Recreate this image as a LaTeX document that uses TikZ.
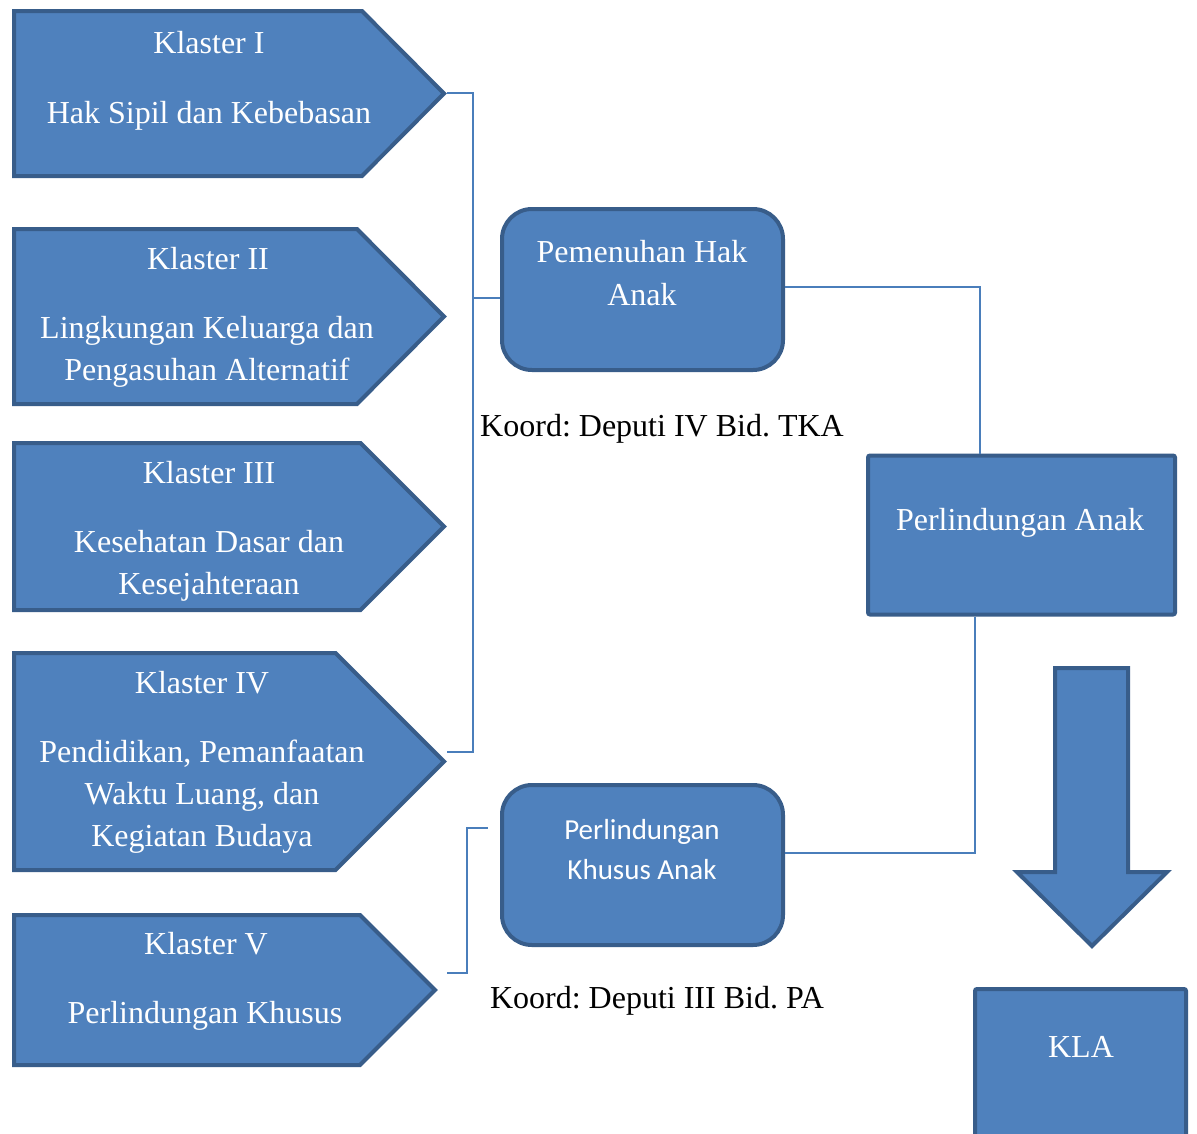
\documentclass[tikz,border=0pt]{standalone}
\usepackage{fontspec}
\setmainfont{Liberation Serif}
\newfontfamily\calfont{Carlito}
\frenchspacing
\definecolor{boxfill}{HTML}{4F81BD}
\definecolor{boxline}{HTML}{385D8A}
\definecolor{conn}{HTML}{4A7EBB}
\begin{document}
\begin{tikzpicture}[x=1pt,y=-1pt,
  shapebox/.style={fill=boxfill,draw=boxline,line width=4pt},
  roundbox/.style={shapebox,rounded corners=30pt,inner sep=0pt},
  sqbox/.style={shapebox,rounded corners=2pt,inner sep=0pt},
  wtxt/.style={text=white,anchor=base,inner sep=0pt,font=\frenchspacing\fontsize{32}{38}\selectfont},
  wsans/.style={text=white,anchor=base,inner sep=0pt,font=\calfont\fontsize{29}{35}\selectfont},
  btxt/.style={text=black,anchor=base,inner sep=0pt,font=\frenchspacing\fontsize{32}{38}\selectfont},
  connector/.style={draw=conn,line width=1.6pt}]
\useasboundingbox (0,0) rectangle (1197,1133);
\fill[white] (0,0) rectangle (1197,1133);

% pentagons (clusters)
\draw[shapebox] (14,11) -- (362,11) -- (444,93.5) coordinate (t1) -- (362,176) -- (14,176) -- cycle;
\draw[shapebox] (14,229) -- (357,229) -- (444,316.5) coordinate (t2) -- (357,404) -- (14,404) -- cycle;
\draw[shapebox] (14,443) -- (360.5,443) -- (444,526.5) coordinate (t3) -- (360.5,610) -- (14,610) -- cycle;
\draw[shapebox] (14,653) -- (335.5,653) -- (444,761.5) coordinate (t4) -- (335.5,870) -- (14,870) -- cycle;
\draw[shapebox] (14,915) -- (360,915) -- (435,990) coordinate (t5) -- (360,1065) -- (14,1065) -- cycle;

\node[wtxt] (k1a) at (209,53) {Klaster I};
\node[wtxt] (k1b) at (209,123) {Hak Sipil dan Kebebasan};
\node[wtxt] (k2a) at (208,269) {Klaster II};
\node[wtxt] (k2b) at (207,338) {Lingkungan Keluarga dan};
\node[wtxt] (k2c) at (207,380) {Pengasuhan Alternatif};
\node[wtxt] (k3a) at (209,483) {Klaster III};
\node[wtxt] (k3b) at (209,552) {Kesehatan Dasar dan};
\node[wtxt] (k3c) at (209,594) {Kesejahteraan};
\node[wtxt] (k4a) at (202,693) {Klaster IV};
\node[wtxt] (k4b) at (202,762) {Pendidikan, Pemanfaatan};
\node[wtxt] (k4c) at (202,804) {Waktu Luang, dan};
\node[wtxt] (k4d) at (202,846) {Kegiatan Budaya};
\node[wtxt] (k5a) at (206,954) {Klaster V};
\node[wtxt] (k5b) at (205,1023) {Perlindungan Khusus};

% rounded boxes
\node[roundbox,minimum width=281pt,minimum height=161pt] (pha) at (642.5,289.5) {};
\node[wtxt] (phat1) at (642,262) {Pemenuhan Hak};
\node[wtxt] (phat2) at (642,305) {Anak};
\node[btxt] (koord1) at (662,436) {Koord: Deputi IV Bid. TKA};

\node[roundbox,minimum width=281pt,minimum height=160pt] (pka) at (642.5,865) {};
\node[wsans] (pkat1) at (642,839) {Perlindungan};
\node[wsans] (pkat2) at (642,879) {Khusus Anak};
\node[btxt] (koord2) at (657,1008) {Koord: Deputi III Bid. PA};

% Perlindungan Anak
\node[sqbox,minimum width=307pt,minimum height=159pt] (pa) at (1021.5,535) {};
\node[wtxt] (pat) at (1020,530) {Perlindungan Anak};

% big arrow
\draw[shapebox,line join=miter] (1055,668) -- (1128,668) -- (1128,872) -- (1167,872)
  -- (1092,946) coordinate (arrtip) -- (1017,872) -- (1055,872) -- cycle;

% KLA
\draw[shapebox,rounded corners=2pt] (975,1150) -- (975,989) -- (1186,989) -- (1186,1150);
\node[wtxt] (kla) at (1081,1057) {KLA};

% connectors
\coordinate (b1top) at (473,93);
\coordinate (b1bot) at (473,752);
\coordinate (b1mid) at (473,298);
\draw[connector] (447,93) -- (b1top) -- (b1bot) -- (447,752);
\draw[connector] (b1mid) -- (b1mid -| pha.west);
\coordinate (c1) at (980,287);
\draw[connector] (c1 -| pha.east) -- (c1) -- (c1 |- pa.north);
\coordinate (c2) at (975,853);
\draw[connector] (c2 |- pa.south) -- (c2) -- (c2 -| pka.east);
\coordinate (b2a) at (467,973);
\coordinate (b2b) at (467,828);
\draw[connector] (447,973) -- (b2a) -- (b2b) -- (488,828);
\end{tikzpicture}
\end{document}
